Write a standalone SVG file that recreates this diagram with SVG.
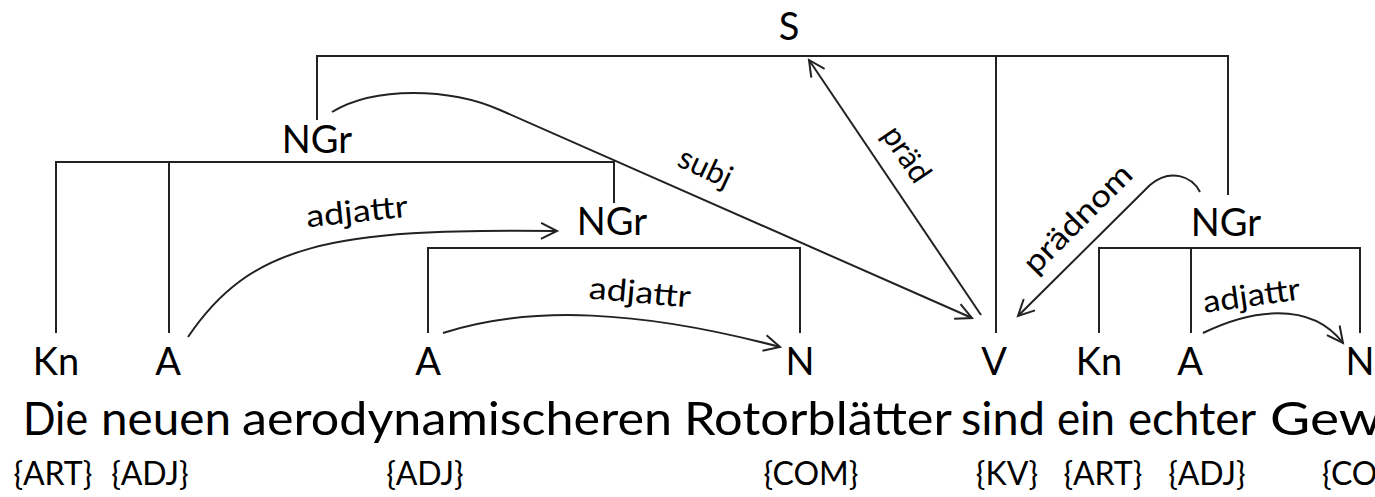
<svg xmlns="http://www.w3.org/2000/svg" width="1375" height="497" viewBox="0 0 1375 497">
<defs>
<marker id="ah" markerUnits="userSpaceOnUse" markerWidth="24" markerHeight="24" viewBox="-20 -12 24 24" refX="0" refY="0" orient="auto"><path d="M-16,-8 L0,0 L-16,8" fill="none" stroke="#222" stroke-width="2"/></marker>
</defs>
<style>
.t{font-family:Lato,"Open Sans",sans-serif;fill:#000}
.lbl{font-size:38px;text-anchor:middle}
.sent{font-size:47px}
.tag{font-size:32px;text-anchor:middle}
.arc{font-size:31px;text-anchor:middle}
.tree{stroke:#222;stroke-width:2;fill:none}
.dep{stroke:#222;stroke-width:2;fill:none;marker-end:url(#ah)}
</style>
<rect width="1375" height="497" fill="#fff"/>
<g id="connectors">
<path class="tree" d="M317,120 V56 H1228 V195 M996,56 V333"/>
<path class="tree" d="M56,333 V162 H614 V203 M169,162 V333"/>
<path class="tree" d="M428,333 V248 H800 V333"/>
<path class="tree" d="M1099,333 V248 H1360 V333 M1191,248 V333"/>
<path class="dep" d="M332,112 C375,86 450,88 500,110 L972,318"/>
<path class="dep" d="M981,315 L809,60"/>
<path class="dep" d="M1200,192 C1192,176 1170,168 1150,185 L1018,316"/>
<path class="dep" d="M188,337 C250,245 330,228 557,231"/>
<path class="dep" d="M443,333 C530,305 640,310 780,347"/>
<path class="dep" d="M1203,333 C1250,310 1310,300 1343,343"/>
<text class="t arc" transform="translate(701,177) rotate(25)">subj</text>
<text class="t arc" transform="translate(898,160) rotate(56)">präd</text>
<text class="t arc" transform="translate(1085,226) rotate(-45)" textLength="140" lengthAdjust="spacingAndGlyphs">prädnom</text>
<text class="t arc" transform="translate(358,222) rotate(-6)" textLength="102" lengthAdjust="spacingAndGlyphs">adjattr</text>
<text class="t arc" transform="translate(639,303) rotate(5)" textLength="102" lengthAdjust="spacingAndGlyphs">adjattr</text>
<text class="t arc" transform="translate(1253,306) rotate(-8)" textLength="98" lengthAdjust="spacingAndGlyphs">adjattr</text>
</g>
<g id="S"><text class="t lbl" x="789" y="40">S</text></g>
<g id="NGr1"><text class="t lbl" x="317" y="153">NGr</text></g>
<g id="NGr2"><text class="t lbl" x="612" y="235">NGr</text></g>
<g id="NGr3"><text class="t lbl" x="1226" y="236">NGr</text></g>
<g id="Kn1"><text class="t lbl" x="56" y="375">Kn</text></g>
<g id="A1"><text class="t lbl" x="168" y="375">A</text></g>
<g id="A2"><text class="t lbl" x="428" y="375">A</text></g>
<g id="N1"><text class="t lbl" x="800" y="375">N</text></g>
<g id="V"><text class="t lbl" x="994" y="375">V</text></g>
<g id="Kn2"><text class="t lbl" x="1099" y="375">Kn</text></g>
<g id="A3"><text class="t lbl" x="1190" y="375">A</text></g>
<g id="N2"><text class="t lbl" x="1360" y="375">N</text></g>
<g id="sentence">
<text class="t sent" x="23" y="435" textLength="65" lengthAdjust="spacingAndGlyphs">Die</text>
<text class="t sent" x="101" y="435" textLength="130" lengthAdjust="spacingAndGlyphs">neuen</text>
<text class="t sent" x="242" y="435" textLength="430" lengthAdjust="spacingAndGlyphs">aerodynamischeren</text>
<text class="t sent" x="684" y="435" textLength="268" lengthAdjust="spacingAndGlyphs">Rotorblätter</text>
<text class="t sent" x="961" y="435" textLength="84" lengthAdjust="spacingAndGlyphs">sind</text>
<text class="t sent" x="1057" y="435" textLength="58" lengthAdjust="spacingAndGlyphs">ein</text>
<text class="t sent" x="1128" y="435" textLength="128" lengthAdjust="spacingAndGlyphs">echter</text>
<text class="t sent" x="1270" y="435" textLength="112" lengthAdjust="spacingAndGlyphs">Gew</text>
</g>
<g id="tags">
<text class="t tag" x="53" y="485">{ART}</text>
<text class="t tag" x="150" y="485">{ADJ}</text>
<text class="t tag" x="425" y="485">{ADJ}</text>
<text class="t tag" x="811" y="485">{COM}</text>
<text class="t tag" x="1007" y="485">{KV}</text>
<text class="t tag" x="1103" y="485">{ART}</text>
<text class="t tag" x="1207" y="485">{ADJ}</text>
<text class="t" style="font-size:32px" x="1322" y="485">{CO</text>
</g>
</svg>
